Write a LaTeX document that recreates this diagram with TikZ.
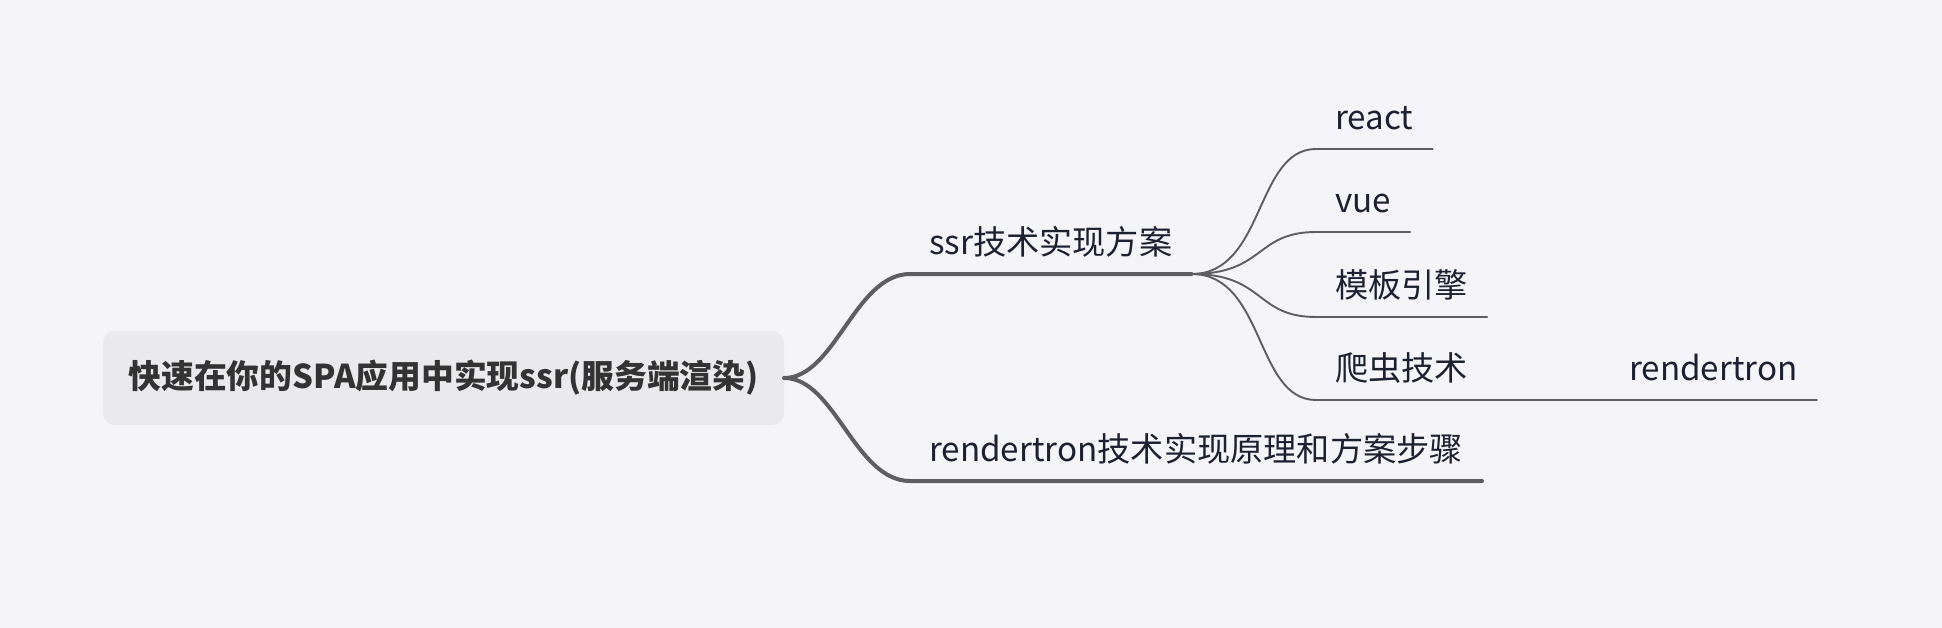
\documentclass[tikz,border=0pt]{standalone}
\usepackage{fontspec}
\setmainfont{Noto Sans CJK SC}
\definecolor{bgc}{HTML}{F5F5F9}
\definecolor{boxc}{HTML}{EAEAEC}
\definecolor{linec}{HTML}{5E5E62}
\definecolor{txtc}{HTML}{1C2030}
\definecolor{roottxt}{HTML}{333333}
\begin{document}
\begin{tikzpicture}[x=1pt,y=-1pt,
  rootbox/.style={fill=boxc, rounded corners=12pt, minimum width=681pt, minimum height=94pt,
    text=roottxt, font=\fontsize{32.8}{38}\selectfont\bfseries, inner sep=0pt},
  topic/.style={anchor=south west, inner xsep=19pt, inner ysep=0pt, text height=24pt, text depth=19pt,
    text=txtc, font=\fontsize{33.2}{38}\selectfont},
  mainline/.style={draw=linec, line width=4pt, line cap=round},
  subline/.style={draw=linec, line width=1.9pt, line cap=round},
]
\fill[bgc] (0,0) rectangle (1942,628);
\useasboundingbox (0,0) rectangle (1942,628);

\node[rootbox] (root) at (443.5,378) {快速在你的SPA应用中实现ssr(服务端渲染)};

\node[topic] (ssr) at (910,274) {ssr技术实现方案};
\node[topic] (rt) at (910,481) {rendertron技术实现原理和方案步骤};

\node[topic] (react) at (1316,149) {react};
\node[topic] (vue) at (1316,232) {vue};
\node[topic] (tpl) at (1316,317) {模板引擎};
\node[topic] (pc) at (1316,400) {爬虫技术};
\node[topic] (rtr) at (1610,400) {rendertron};

\draw[mainline] (root.east) .. controls (835,378) and (855,274) .. (ssr.south west) -- (ssr.south east);
\draw[mainline] (root.east) .. controls (835,378) and (855,481) .. (rt.south west) -- (rt.south east);

\draw[subline] (ssr.south east) .. controls (1265,274) and (1255,149) .. (react.south west) -- (react.south east);
\draw[subline] (ssr.south east) .. controls (1265,274) and (1255,232) .. (vue.south west) -- (vue.south east);
\draw[subline] (ssr.south east) .. controls (1265,274) and (1255,317) .. (tpl.south west) -- (tpl.south east);
\draw[subline] (ssr.south east) .. controls (1265,274) and (1255,400) .. (pc.south west) -- (pc.south east);
\draw[subline] (pc.south east) -- (rtr.south west) -- (rtr.south east);
\end{tikzpicture}
\end{document}
